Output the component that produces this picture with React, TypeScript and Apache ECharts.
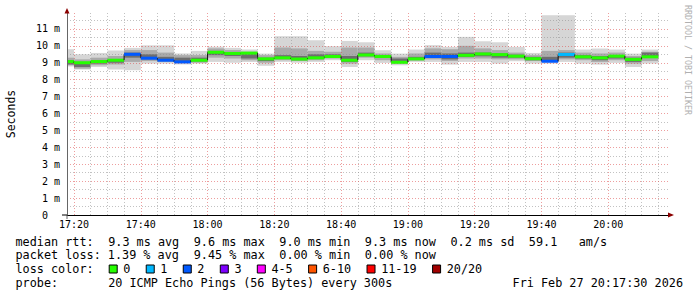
import React, { useEffect, useRef } from 'react';
import * as echarts from 'echarts';

// time in minutes after 17:00
const X_MIN = 17.9;
const X_MAX = 197.9;
const FIRST_STEP_END = 20;
const STEP_MIN = 5;

const xTickValues = [20, 40, 60, 80, 100, 120, 140, 160, 180];
const xTickLabels = ['17:20', '17:40', '18:00', '18:20', '18:40', '19:00', '19:20', '19:40', '20:00'];
const yTickLabels = ['0', '1 m', '2 m', '3 m', '4 m', '5 m', '6 m', '7 m', '8 m', '9 m', '10 m', '11 m'];

// median rtt per 5-minute step (ms)
const medianMs = [9.07, 9.0, 9.07, 9.15, 9.5, 9.27, 9.15, 9.05, 9.15, 9.62, 9.55, 9.57, 9.23, 9.29, 9.22, 9.29, 9.37, 9.15,
  9.46, 9.37, 9.03, 9.23, 9.37, 9.37, 9.44, 9.52, 9.48, 9.39, 9.24, 9.09, 9.49, 9.35, 9.29, 9.39, 9.2, 9.35];
// loss colour class per step (index into lossColors)
const lossClass = [0, 0, 0, 0, 2, 2, 2, 2, 0, 0, 0, 0, 0, 0, 0, 0, 0, 0,
  0, 0, 0, 0, 2, 2, 0, 0, 0, 0, 0, 2, 1, 0, 0, 0, 0, 0];
// smoke: outer (min/max), middle and core bands (ms)
const smokeMin = [8.78, 8.6, 8.75, 8.6, 8.56, 8.95, 8.95, 8.9, 8.95, 9.05, 9.0, 9.05, 8.82, 9.05, 9.0, 9.05, 9.15, 8.75,
  9.15, 8.99, 8.85, 9.05, 9.05, 8.89, 9.05, 9.05, 8.95, 9.09, 8.95, 8.95, 9.05, 8.95, 8.89, 8.99, 8.75, 8.95];
const smokeMax = [9.8, 9.5, 9.58, 9.72, 9.88, 10.03, 10.03, 9.55, 9.7, 9.95, 9.88, 9.78, 9.54, 10.57, 10.57, 10.33, 9.98, 10.29,
  10.21, 9.74, 9.54, 9.78, 10.04, 9.94, 10.53, 10.27, 10.21, 9.94, 9.58, 11.81, 11.81, 9.78, 9.84, 9.78, 9.54, 9.78];
const midLo = [8.85, 8.65, 8.85, 8.9, 9.05, 9.1, 9.05, 9.0, 9.0, 9.3, 9.25, 9.15, 9.0, 9.15, 9.1, 9.15, 9.25, 8.95,
  9.3, 9.15, 8.95, 9.12, 9.2, 9.1, 9.25, 9.25, 9.2, 9.2, 9.1, 9.05, 9.2, 9.15, 9.05, 9.15, 8.95, 9.1];
const midHi = [9.3, 9.2, 9.3, 9.4, 9.75, 9.75, 9.6, 9.45, 9.45, 9.85, 9.75, 9.65, 9.45, 9.9, 9.85, 9.7, 9.65, 9.9,
  9.9, 9.55, 9.35, 9.55, 9.85, 9.8, 10.0, 9.85, 9.75, 9.6, 9.45, 9.7, 9.75, 9.6, 9.55, 9.6, 9.4, 9.65];
const coreLo = [8.9, 8.75, 8.95, 9.0, 9.3, 9.2, 9.1, 9.02, 9.08, 9.45, 9.4, 9.25, 9.1, 9.22, 9.15, 9.22, 9.3, 9.05,
  9.38, 9.28, 9.0, 9.18, 9.3, 9.2, 9.35, 9.38, 9.3, 9.3, 9.15, 9.1, 9.3, 9.25, 9.15, 9.25, 9.05, 9.3];
const coreHi = [9.15, 9.05, 9.12, 9.2, 9.6, 9.5, 9.35, 9.3, 9.3, 9.7, 9.62, 9.6, 9.3, 9.45, 9.4, 9.5, 9.5, 9.4,
  9.6, 9.45, 9.25, 9.35, 9.6, 9.55, 9.6, 9.6, 9.55, 9.48, 9.35, 9.35, 9.6, 9.45, 9.4, 9.45, 9.3, 9.6];

const lossLabels = ['0', '1', '2', '3', '4-5', '6-10', '11-19', '20/20'];
const lossColors = ['#26ff00', '#00b8ff', '#0059ff', '#7e00ff', '#ff00ff', '#ff5500', '#ff0000', '#a10000'];

const rttLine = 'median rtt:  9.3 ms avg  9.6 ms max  9.0 ms min  9.3 ms now  0.2 ms sd  59.1   am/s';
const lossLine = 'packet loss: 1.39 % avg  9.45 % max  0.00 % min  0.00 % now';
const colorLine = 'loss color:';
const probeLine = 'probe:       20 ICMP Echo Pings (56 Bytes) every 300s';
const dateText = 'Fri Feb 27 20:17:30 2026';
const yTitle = 'Seconds';
const sideText = 'RRDTOOL / TOBI OETIKER';

const FONT = '"DejaVu Sans Mono", monospace';
const SMOKE_COLORS = ['#d6d6d6', '#aaaaaa', '#6e6e6e'];
const MINOR = { color: 'rgba(143,143,143,0.55)', width: 1, type: [1, 2] };
const MAJOR = { color: 'rgba(222,79,79,0.55)', width: 1, type: [1, 2] };

function stepStart(i: number) {
  return i === 0 ? X_MIN : FIRST_STEP_END + STEP_MIN * (i - 1);
}
function stepEnd(i: number) {
  return FIRST_STEP_END + STEP_MIN * i;
}

function tokens(line: string) {
  const out: { text: string; col: number }[] = [];
  const re = /\S+(?: \S+)*/g;
  let m: RegExpExecArray | null;
  while ((m = re.exec(line))) out.push({ text: m[0], col: m.index });
  return out;
}

function buildOption() {
  const smokeData = medianMs.map((_, i) => [stepStart(i), stepEnd(i), smokeMin[i], smokeMax[i], midLo[i], midHi[i], coreLo[i], coreHi[i]]);
  const medData = medianMs.map((m, i) => [stepStart(i), stepEnd(i), m, i === 0 ? m : medianMs[i - 1], lossClass[i]]);

  const gridLines: any[] = [];
  for (let t = FIRST_STEP_END; t < X_MAX; t += STEP_MIN) {
    gridLines.push({ xAxis: t, lineStyle: t % 20 === 0 ? MAJOR : MINOR });
  }
  for (let k = 1; k < 24; k++) {
    const v = k / 2;
    gridLines.push({ yAxis: v, lineStyle: k % 2 === 0 ? MAJOR : MINOR });
  }

  const CW = 7.13;
  const X0 = 15.5;
  const FS = 11.8;
  const graphics: any[] = [];
  const addRow = (line: string, y: number) => {
    tokens(line).forEach((t) => {
      graphics.push({
        type: 'text', x: X0 + t.col * CW, y,
        style: { text: t.text, fontFamily: FONT, fontSize: FS, fill: '#000', align: 'left', verticalAlign: 'middle' },
      });
    });
  };
  addRow(rttLine, 241.5);
  addRow(lossLine, 255.2);
  addRow(colorLine, 269);
  addRow(probeLine, 282.8);
  graphics.push({
    type: 'text', x: 683, y: 282.8,
    style: { text: dateText, fontFamily: FONT, fontSize: FS, fill: '#000', align: 'right', verticalAlign: 'middle' },
  });
  let sx = 108.7;
  lossLabels.forEach((lab, i) => {
    graphics.push({ type: 'rect', shape: { x: sx + 0.5, y: 265, width: 8, height: 8 }, style: { fill: lossColors[i], stroke: '#000', lineWidth: 1 } });
    const lx = sx + 14.6;
    graphics.push({
      type: 'text', x: lx, y: 269,
      style: { text: lab, fontFamily: FONT, fontSize: FS, fill: '#000', align: 'left', verticalAlign: 'middle' },
    });
    sx = lx + lab.length * CW + 15.3;
  });
  graphics.push({
    type: 'text', x: 11, y: 114, rotation: Math.PI / 2,
    style: { text: yTitle, fontFamily: FONT, fontSize: 11.5, fill: '#000', align: 'center', verticalAlign: 'middle' },
  });
  graphics.push({
    type: 'text', x: 688, y: 5, rotation: -Math.PI / 2,
    style: { text: sideText, fontFamily: FONT, fontSize: 8.3, fill: '#b0b0b0', align: 'left', verticalAlign: 'middle' },
  });
  // axis extensions and arrows
  graphics.push({ type: 'line', shape: { x1: 62, y1: 215, x2: 67, y2: 215 }, style: { stroke: '#000', lineWidth: 1 }, z: 30 });
  graphics.push({ type: 'line', shape: { x1: 67, y1: 215, x2: 67, y2: 219 }, style: { stroke: '#666', lineWidth: 1 }, z: 30 });
  graphics.push({ type: 'polygon', shape: { points: [[64.5, 13.5], [69.5, 13.5], [67, 8]] }, style: { fill: '#8b0000' }, z: 30 });
  graphics.push({ type: 'polygon', shape: { points: [[668, 212.5], [668, 217.5], [674, 215]] }, style: { fill: '#8b0000' }, z: 30 });

  return {
    animation: false,
    backgroundColor: '#ffffff',
    textStyle: { fontFamily: FONT },
    grid: { left: 67, top: 12, width: 601, height: 203, containLabel: false },
    xAxis: {
      type: 'value', min: X_MIN, max: X_MAX, z: 20,
      axisLine: { show: true, lineStyle: { color: '#000', width: 1 } },
      axisTick: { show: false },
      splitLine: { show: false },
      axisLabel: {
        customValues: xTickValues,
        formatter: (v: number) => {
          const i = xTickValues.indexOf(Math.round(v));
          return i >= 0 ? xTickLabels[i] : '';
        },
        fontFamily: FONT, fontSize: 10, color: '#000', margin: 4,
        showMinLabel: true, showMaxLabel: true,
      },
    },
    yAxis: {
      type: 'value', min: 0, max: 12, interval: 1, z: 20,
      axisLine: { show: true, lineStyle: { color: '#666', width: 1 } },
      axisTick: { show: false },
      splitLine: { show: false },
      axisLabel: {
        formatter: (v: number) => {
          if (v === 0) return '{z|' + yTickLabels[0] + '}';
          return yTickLabels[v] ?? '';
        },
        rich: { z: { padding: [0, 12, 0, 0], fontFamily: FONT, fontSize: 10, color: '#000' } },
        fontFamily: FONT, fontSize: 10, color: '#000', margin: 7,
      },
    },
    graphic: graphics,
    series: [
      {
        type: 'custom',
        z: 1,
        silent: true,
        data: smokeData,
        renderItem: (params: any, api: any) => {
          const x0 = api.value(0);
          const x1 = api.value(1);
          const layers: [number, number, string][] = [[2, 3, SMOKE_COLORS[0]], [4, 5, SMOKE_COLORS[1]], [6, 7, SMOKE_COLORS[2]]];
          return {
            type: 'group',
            children: layers.map(([lo, hi, c]) => {
              const a = api.coord([x0, api.value(hi)]);
              const b = api.coord([x1, api.value(lo)]);
              return { type: 'rect', shape: { x: a[0], y: a[1], width: b[0] - a[0], height: b[1] - a[1] }, style: { fill: c } };
            }),
          };
        },
        markLine: {
          silent: true, symbol: ['none', 'none'], label: { show: false }, z: 5, animation: false,
          data: gridLines,
        },
      },
      {
        type: 'custom',
        z: 10,
        silent: true,
        data: medData,
        renderItem: (params: any, api: any) => {
          const x0 = api.value(0);
          const x1 = api.value(1);
          const m = api.value(2);
          const pm = api.value(3);
          const li = api.value(4);
          const a = api.coord([x0, m]);
          const b = api.coord([x1, m]);
          const p = api.coord([x0, pm]);
          return {
            type: 'group',
            children: [
              { type: 'line', shape: { x1: p[0], y1: p[1], x2: a[0], y2: a[1] }, style: { stroke: '#111', lineWidth: 1 } },
              { type: 'line', shape: { x1: a[0], y1: a[1], x2: b[0], y2: b[1] }, style: { stroke: lossColors[li], lineWidth: 3 } },
            ],
          };
        },
      },
    ],
  };
}

export default function App() {
  const ref = useRef<HTMLDivElement>(null);
  useEffect(() => {
    const chart = echarts.init(ref.current!, null, { renderer: 'svg' });
    chart.setOption(buildOption() as any);
    return () => chart.dispose();
  }, []);
  return <div ref={ref} style={{ position: 'absolute', left: 0, top: 0, width: 697, height: 297, background: '#fff' }} />;
}
